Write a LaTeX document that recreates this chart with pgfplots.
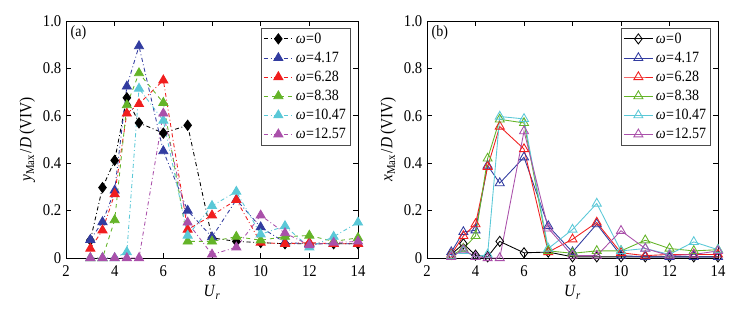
\documentclass[border=0pt]{standalone}
\usepackage{fontspec}
\setmainfont{Liberation Serif}
\usepackage{pgfplots}
\pgfplotsset{compat=1.18}
\definecolor{cblk}{RGB}{0,0,0}
\definecolor{cblu}{RGB}{50,60,160}
\definecolor{cred}{RGB}{240,30,30}
\definecolor{cgrn}{RGB}{100,180,40}
\definecolor{ccya}{RGB}{90,200,215}
\definecolor{cmag}{RGB}{170,80,170}
\newcommand{\vs}[1]{\scalebox{1}[1.12]{#1}}
\newcommand{\om}[1]{\vs{\textit{ω}\hspace{0.03em}=\hspace{0.03em}#1}}
\pgfplotsset{
  common/.style={
    scale only axis, width=219pt, height=177.75pt,
    xmin=2, xmax=14, ymin=0, ymax=1,
    xtick={2,4,...,14}, ytick={0,0.2,0.4,0.6,0.8,1.0},
    xticklabel={\vs{\pgfmathprintnumber{\tick}}},
    yticklabels={\vs{0},\vs{0.2},\vs{0.4},\vs{0.6},\vs{0.8},\vs{1.0}},
    tick align=inside, major tick length=4pt,
    tick style={line width=0.5pt, black},
    axis line style={line width=0.6pt},
    /pgf/number format/assume math mode=true,
    tick label style={font=\fontsize{11}{12}\selectfont},
    xticklabel style={yshift=-2pt},
    label style={font=\fontsize{11.5}{13}\selectfont},
    xlabel={\vs{\textit{U}\textsubscript{\textit{r}}}},
    xlabel style={yshift=0pt},
    legend style={at={(1,1)}, anchor=north east, xshift=-5.25pt, yshift=-5pt,
      draw=black!70, line width=0.5pt, font=\fontsize{10.5}{11}\selectfont,
      inner sep=1.5pt, row sep=1pt, cells={anchor=west}},
    legend image code/.code={\draw[mark repeat=2,mark phase=2] plot coordinates {(0cm,0cm)(0.38cm,0cm)(0.76cm,0cm)};},
    every axis plot/.append style={line width=0.65pt},
  }
}
\begin{document}
\begin{tikzpicture}
\useasboundingbox (0,0) rectangle (556.5pt,231pt);
\begin{axis}[common, at={(49.5pt,37.5pt)}, anchor=south west,
  ylabel={\vs{\textit{y}\textsubscript{Max}\hspace{0.1em}/\hspace{0.05em}\textit{D}\hspace{0.15em}(VIV)}},
  ylabel style={yshift=-1pt}]
\addplot[cblk, dash dot, mark=diamond*, mark size=3.8pt, mark options={solid, fill=black}] coordinates {
(3,0.075)(3.5,0.297)(4,0.412)(4.5,0.676)(5,0.570)(6,0.527)(7,0.560)(8,0.085)(9,0.07)(10,0.065)(11,0.06)(12,0.06)(13,0.06)(14,0.06)};
\addlegendentry{\om{0}}
\addplot[cblu, dash dot, mark=triangle*, mark size=3.9pt, mark options={solid, fill=cblu}] coordinates {
(3,0.077)(3.5,0.152)(4,0.285)(4.5,0.724)(5,0.894)(6,0.451)(7,0.20)(8,0.088)(9,0.246)(10,0.13)(11,0.065)(12,0.06)(13,0.06)(14,0.06)};
\addlegendentry{\om{4.17}}
\addplot[cred, dash dot, mark=triangle*, mark size=3.9pt, mark options={solid, fill=cred}] coordinates {
(3,0.04)(3.5,0.117)(4,0.27)(4.5,0.61)(5,0.65)(6,0.75)(7,0.12)(8,0.18)(9,0.245)(10,0.065)(11,0.06)(12,0.065)(13,0.06)(14,0.06)};
\addlegendentry{\om{6.28}}
\addplot[cgrn, dashed, mark=triangle*, mark size=3.9pt, mark options={solid, fill=cgrn}] coordinates {
(3,0.0)(3.5,0.0)(4,0.16)(4.5,0.645)(5,0.78)(6,0.655)(7,0.07)(8,0.07)(9,0.09)(10,0.075)(11,0.09)(12,0.095)(13,0.07)(14,0.085)};
\addlegendentry{\om{8.38}}
\addplot[ccya, dash dot, mark=triangle*, mark size=3.9pt, mark options={solid, fill=ccya}] coordinates {
(3,0.0)(3.5,0.0)(4,0.0)(4.5,0.025)(5,0.715)(6,0.58)(7,0.095)(8,0.22)(9,0.28)(10,0.10)(11,0.135)(12,0.045)(13,0.09)(14,0.15)};
\addlegendentry{\om{10.47}}
\addplot[cmag, dash dot, mark=triangle*, mark size=3.9pt, mark options={solid, fill=cmag}] coordinates {
(3,0.0)(3.5,0.0)(4,0.0)(4.5,0.0)(5,0.0)(6,0.61)(7,0.15)(8,0.015)(9,0.045)(10,0.18)(11,0.105)(12,0.055)(13,0.065)(14,0.07)};
\addlegendentry{\om{12.57}}
\node[anchor=north west, font=\fontsize{10.5}{12}\selectfont] at (rel axis cs:0,1) [xshift=0pt,yshift=0pt] {\vs{(a)}};
\end{axis}
\begin{axis}[common, at={(320.25pt,37.5pt)}, anchor=south west, width=218.25pt,
  ylabel={\vs{\textit{x}\textsubscript{Max}\hspace{0.1em}/\hspace{0.05em}\textit{D}\hspace{0.15em}(VIV)}},
  ylabel style={yshift=-1pt}]
\addplot[cblk, mark=diamond, mark size=3.8pt, mark options={solid}] coordinates {
(3,0.015)(3.5,0.06)(4,0.012)(4.5,0.005)(5,0.07)(6,0.022)(7,0.025)(8,0.005)(9,0.005)(10,0.005)(11,0.005)(12,0.005)(13,0.005)(14,0.005)};
\addlegendentry{\om{0}}
\addplot[cblu, mark=triangle, mark size=3.9pt, mark options={solid}] coordinates {
(3,0.025)(3.5,0.11)(4,0.117)(4.5,0.39)(5,0.316)(6,0.425)(7,0.135)(8,0.025)(9,0.143)(10,0.01)(11,0.005)(12,0.005)(13,0.005)(14,0.005)};
\addlegendentry{\om{4.17}}
\addplot[cred, mark=triangle, mark size=3.9pt, mark options={solid}] coordinates {
(3,0.015)(3.5,0.093)(4,0.143)(4.5,0.385)(5,0.555)(6,0.46)(7,0.025)(8,0.079)(9,0.15)(10,0.022)(11,0.01)(12,0.015)(13,0.015)(14,0.015)};
\addlegendentry{\om{6.28}}
\addplot[cgrn, mark=triangle, mark size=3.9pt, mark options={solid}] coordinates {
(3,0.01)(3.5,0.04)(4,0.093)(4.5,0.42)(5,0.585)(6,0.57)(7,0.03)(8,0.02)(9,0.03)(10,0.03)(11,0.075)(12,0.04)(13,0.03)(14,0.035)};
\addlegendentry{\om{8.38}}
\addplot[ccya, mark=triangle, mark size=3.9pt, mark options={solid}] coordinates {
(3,0.01)(3.5,0.03)(4,0.005)(4.5,0.015)(5,0.597)(6,0.587)(7,0.04)(8,0.12)(9,0.23)(10,0.03)(11,0.04)(12,0.015)(13,0.068)(14,0.035)};
\addlegendentry{\om{10.47}}
\addplot[cmag, mark=triangle, mark size=3.9pt, mark options={solid}] coordinates {
(3,0.005)(3.5,0.035)(4,0.005)(4.5,0.0)(5,0.0)(6,0.535)(7,0.125)(8,0.01)(9,0.01)(10,0.115)(11,0.04)(12,0.01)(13,0.015)(14,0.03)};
\addlegendentry{\om{12.57}}
\node[anchor=north west, font=\fontsize{10.5}{12}\selectfont] at (rel axis cs:0,1) [xshift=0pt,yshift=0pt] {\vs{(b)}};
\end{axis}
\end{tikzpicture}
\end{document}
